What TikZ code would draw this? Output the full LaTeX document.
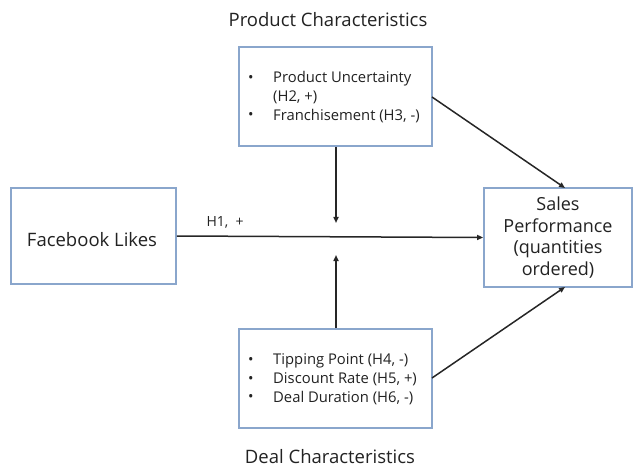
\documentclass[tikz,border=0pt]{standalone}
\usepackage{fontspec}
\setmainfont{Open Sans}
\usetikzlibrary{arrows.meta}
\definecolor{boxblue}{HTML}{8AA6CC}
\definecolor{txt}{HTML}{222222}
\begin{document}
\begin{tikzpicture}[x=1pt,y=-1pt,
  box/.style={draw=boxblue,line width=1.8pt,fill=white,inner sep=0pt},
  conn/.style={line width=1.5pt,draw=black!85,-{Triangle[length=6pt,width=5pt]}},
  bul/.style={font=\fontsize{14.5}{18.5}\selectfont},
  every node/.style={text=txt}]
\useasboundingbox (0,0) rectangle (639,470);
\node[box,minimum width=165pt,minimum height=96pt] (fb) at (93.5,236) {};
\node[font=\fontsize{18.5}{22}\selectfont] (fbt) at (92,240) {Facebook Likes};
\node[box,minimum width=148pt,minimum height=99pt] (sp) at (558,237.5) {};
\node[font=\fontsize{18}{21.7}\selectfont,align=center] (spt) at (sp.center) {Sales\\Performance\\(quantities\\ordered)};
\node[box,minimum width=193pt,minimum height=99pt] (pc) at (335.5,96.5) {};
\node[box,minimum width=193pt,minimum height=99pt] (dc) at (335.5,378.5) {};
\node[font=\fontsize{18.5}{22}\selectfont] (pct) at (328,20) {Product Characteristics};
\node[font=\fontsize{18.5}{22}\selectfont] (dct) at (330,457) {Deal Characteristics};
\begin{scope}[every node/.style={text=txt,font=\fontsize{14.8}{18.5}\selectfont,anchor=west,inner sep=0pt}]
\node[bul] (b1) at (248,79) {•};
\node (p1) at (273,79) {Product Uncertainty};
\node (p1b) at (273,97.5) {(H2, +)};
\node[bul] (b2) at (248,116) {•};
\node (p2) at (273,116) {Franchisement (H3, -)};
\node[bul] (b3) at (248,361) {•};
\node (d1) at (273,361) {Tipping Point (H4, -)};
\node[bul] (b4) at (248,379.5) {•};
\node (d2) at (273,379.5) {Discount Rate (H5, +)};
\node[bul] (b5) at (248,398) {•};
\node (d3) at (273,398) {Deal Duration (H6, -)};
\end{scope}
\node[font=\fontsize{14}{16}\selectfont,anchor=west] (h1) at (203,222) {H1, ~+};
\coordinate (mt) at (336,223);
\coordinate (mb) at (336,255);
\draw[conn] (fb.east) -- (sp.west);
\draw[conn] (pc.south -| mt) -- (mt);
\draw[conn] (dc.north -| mb) -- (mb);
\draw[conn] (432,97) coordinate (pcr) -- (565,188) coordinate (spt1);
\draw[conn] (432,378) coordinate (dcr) -- (565,287) coordinate (spb1);
\end{tikzpicture}
\end{document}
